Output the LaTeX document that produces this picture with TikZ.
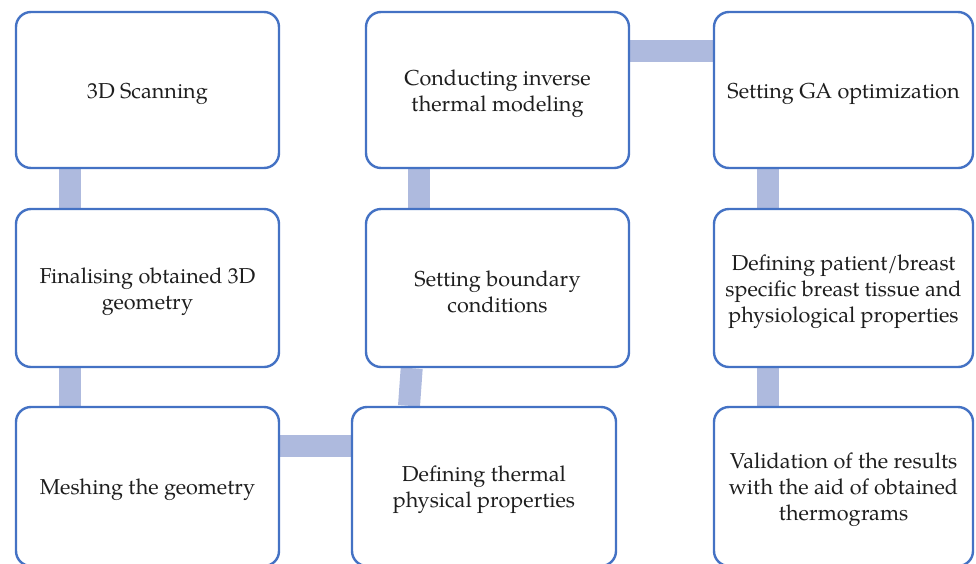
\documentclass[tikz,border=0pt]{standalone}
\usepackage{fontspec}
\setmainfont{TeX Gyre Pagella}
\usetikzlibrary{backgrounds}
\definecolor{boxline}{RGB}{68,114,196}
\definecolor{barfill}{RGB}{174,186,222}
\definecolor{txt}{RGB}{30,30,30}
\tikzset{
  steptext/.style={align=center, text=txt, inner sep=0pt, yshift=-3.5pt,
    font=\fontsize{21.6}{26}\selectfont},
  stepbox/.style={draw=boxline, fill=white, line width=2.4pt, rounded corners=15pt,
    minimum width=263pt, minimum height=156pt, inner sep=0pt,
    label={[steptext]center:{#1}}},
  linkbar/.style={draw=barfill, line width=22pt}
}
\begin{document}
\begin{tikzpicture}[x=1pt,y=-1pt]
\useasboundingbox (0,0) rectangle (976,563);
% first row
\node[stepbox={3D Scanning}] (scan) at (147.5,90) {};
\node[stepbox={Conducting inverse\\thermal modeling}] (inverse) at (497.5,90) {};
\node[stepbox={Setting GA optimization}, minimum width=259pt] (ga) at (843.5,90) {};
% second row
\node[stepbox={Finalising obtained 3D\\geometry}, minimum height=158pt] (final) at (147.5,288) {};
\node[stepbox={Setting boundary\\conditions}, minimum height=158pt] (bound) at (497.5,288) {};
\node[stepbox={Defining patient/breast\\specific breast tissue and\\physiological properties},
      minimum width=259pt, minimum height=158pt] (patient) at (843.5,288) {};
% third row, running off the lower edge
\node[stepbox={Meshing the geometry}, minimum height=159pt] (mesh) at (147.5,486.5) {};
\node[stepbox={Defining thermal\\physical properties}, minimum width=264pt, minimum height=159pt] (thermal) at (484,486.5) {};
\node[stepbox={Validation of the results\\with the aid of obtained\\thermograms},
      minimum width=259pt, minimum height=159pt] (valid) at (843.5,486.5) {};
% connecting bars behind the boxes
\begin{scope}[on background layer]
\draw[linkbar] ([xshift=-77.5pt]scan.south) -- ([xshift=-77.5pt]final.north);
\draw[linkbar] ([xshift=-77.5pt]final.south) -- ([xshift=-77.5pt]mesh.north);
\draw[linkbar] ([yshift=40.5pt]mesh.east) -- ([yshift=40.5pt]thermal.west);
\draw[linkbar] ([xshift=-75pt]thermal.north) -- ([xshift=-85.8pt]bound.south);
\draw[linkbar] ([xshift=-78.5pt]bound.north) -- ([xshift=-78.5pt]inverse.south);
\draw[linkbar] ([yshift=39pt]inverse.east) -- ([yshift=39pt]ga.west);
\draw[linkbar] ([xshift=-75.5pt]ga.south) -- ([xshift=-75.5pt]patient.north);
\draw[linkbar] ([xshift=-75.5pt]patient.south) -- ([xshift=-75.5pt]valid.north);
\end{scope}
\end{tikzpicture}
\end{document}
